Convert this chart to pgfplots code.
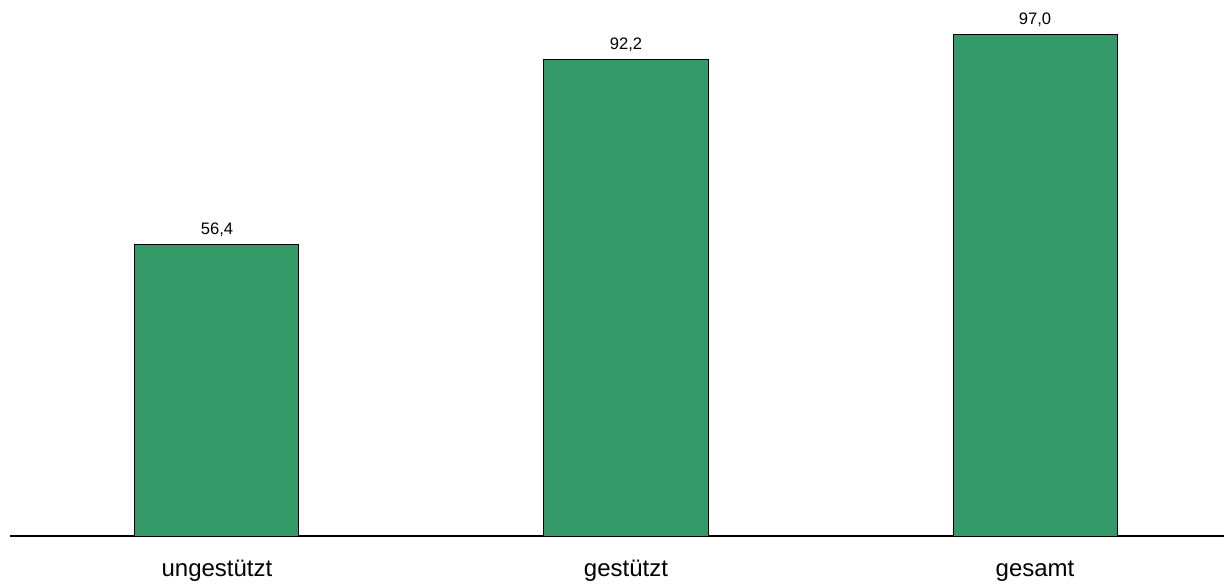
\documentclass[border=0pt]{standalone}
\usepackage{pgfplots}
\pgfplotsset{compat=1.18}
\usepackage{fontspec}
\setmainfont{Liberation Sans}
\definecolor{barg}{RGB}{51,153,102}
\begin{document}
\begin{tikzpicture}[x=1pt,y=1pt]
\useasboundingbox (0,0) rectangle (1224,584);
\begin{axis}[
  at={(10pt,48pt)}, anchor=south west,
  scale only axis,
  width=1214pt, height=517.2pt,
  xmin=-0.506, xmax=2.462,
  ymin=0, ymax=100,
  clip=false,
  axis y line=none,
  axis x line*=bottom,
  x axis line style={line width=2pt,-},
  xtick={0,1,2},
  xticklabels={ungestützt,gestützt,gesamt},
  major tick length=0pt,
  xticklabel style={font=\fontsize{24}{28}\selectfont, yshift=-21pt},
  ybar, bar width=164pt,
  /pgf/number format/.cd, use comma, fixed, fixed zerofill, precision=1, assume math mode=true,
]
\addplot[fill=barg, draw=black, line width=1pt,
  nodes near coords,
  every node near coord/.append style={font=\fontsize{16.6}{20}\selectfont, anchor=south, inner sep=0pt, text depth=0pt, yshift=9pt, text=black}]
  coordinates {(0,56.4) (1,92.2) (2,97.0)};
\end{axis}
\end{tikzpicture}
\end{document}
